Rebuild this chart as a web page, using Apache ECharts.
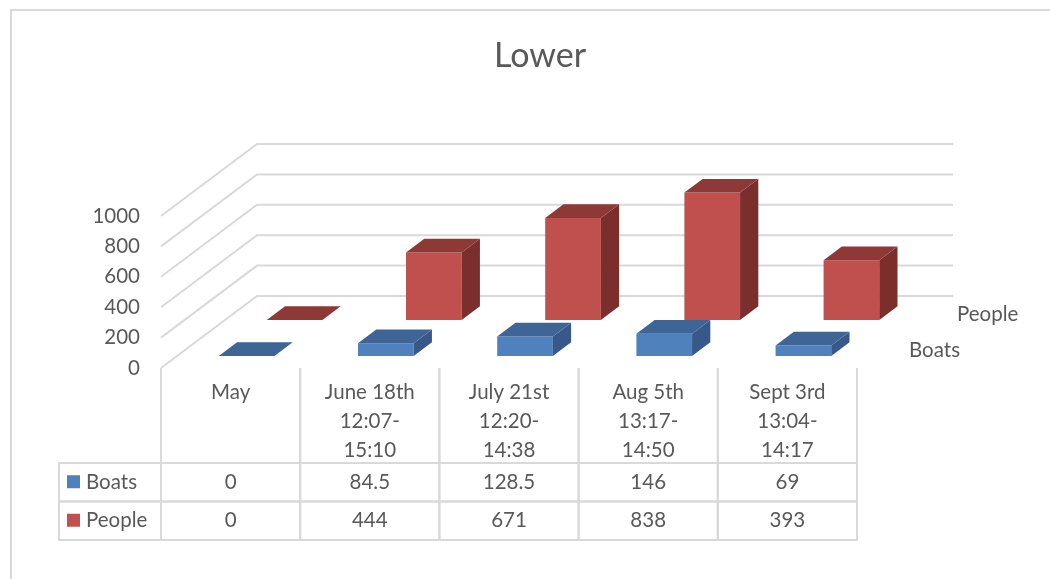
<!DOCTYPE html>
<html><head><meta charset="utf-8">
<script src="https://cdn.jsdelivr.net/npm/echarts@6/dist/echarts.min.js"></script>
<style>html,body{margin:0;padding:0;background:#fff}#c{width:1050px;height:579px}</style>
</head><body><div id="c"></div>
<script>
// ---- data ----
const categories = ['May', 'June 18th\n12:07-\n15:10', 'July 21st\n12:20-\n14:38', 'Aug 5th\n13:17-\n14:50', 'Sept 3rd\n13:04-\n14:17'];
const seriesNames = ['Boats', 'People'];
const boats = [0, 84.5, 128.5, 146, 69];
const people = [0, 444, 671, 838, 393];
const yTicks = [0, 200, 400, 600, 800, 1000];

// ---- style ----
const FONT = 'Lato, "Open Sans", sans-serif';
const FS = 20.5;
const TXT = '#595959';
const LINE = '#D9D9D9';
const DX = 96, DY = -72;            // full depth projection
const ROW_DEPTH = 0.5, GAP = 0.167, BAR_DEPTH = 0.19, BAR_W = 0.4;
const HEADER_H = 95, LEGEND_W = 102;
const shades = [
  { front: '#4F81BD', top: '#3E6596', side: '#37598A' },
  { front: '#C0504D', top: '#8F3936', side: '#7B2F2D' }
];
const valuesByRow = [boats, people];

function proj(p, f) { return [p[0] + DX * f, p[1] + DY * f]; }

function barItem(params, api) {
  const ci = api.value(0), v = api.value(1), r = api.value(2);
  const c0 = api.coord([ci, 0]), c1 = api.coord([ci, v]);
  const bw = api.size([1, 0])[0] * BAR_W;
  const xl = c0[0] - bw / 2, xr = c0[0] + bw / 2, yb = c0[1], yt = c1[1];
  const f0 = r * ROW_DEPTH + GAP, f1 = f0 + BAR_DEPTH;
  const sh = shades[r];
  const kids = [];
  if (yb - yt > 0.3) {
    kids.push({ type: 'polygon', shape: { points: [proj([xl, yb], f0), proj([xr, yb], f0), proj([xr, yt], f0), proj([xl, yt], f0)] }, style: { fill: sh.front } });
    kids.push({ type: 'polygon', shape: { points: [proj([xr, yb], f0), proj([xr, yb], f1), proj([xr, yt], f1), proj([xr, yt], f0)] }, style: { fill: sh.side } });
  }
  kids.push({ type: 'polygon', shape: { points: [proj([xl, yt], f0), proj([xr, yt], f0), proj([xr, yt], f1), proj([xl, yt], f1)] }, style: { fill: sh.top } });
  return { type: 'group', children: kids };
}

function wallItem(params, api) {
  const v = api.value(1);
  const cs = params.coordSys;
  const y = api.coord([0, v])[1];
  const x0 = cs.x, x1 = cs.x + cs.width;
  return { type: 'polyline', shape: { points: [[x0, y], proj([x0, y], 1), proj([x1, y], 1)] }, style: { stroke: LINE, lineWidth: 2, fill: null } };
}

function depthLabelItem(params, api) {
  const r = api.value(2);
  const cs = params.coordSys;
  const y0 = api.coord([0, 0])[1];
  const fc = r * ROW_DEPTH + 0.25;
  const p = proj([cs.x + cs.width, y0], fc);
  return { type: 'text', style: { text: seriesNames[r], x: p[0] + 28, y: p[1], fill: TXT, font: FS + 'px ' + FONT, verticalAlign: 'middle', align: 'left' } };
}

function tableItem(params, api) {
  const ci = api.value(0), r = api.value(1), val = api.value(2);
  const c = api.coord([ci, r]);
  const cw = api.size([1, 1]);
  const x = c[0] - cw[0] / 2, y = c[1] - cw[1] / 2;
  const kids = [];
  kids.push({ type: 'rect', shape: { x: x, y: y, width: cw[0], height: cw[1] }, style: { fill: null, stroke: LINE, lineWidth: 2 } });
  kids.push({ type: 'text', style: { text: String(val), x: c[0], y: c[1], align: 'center', verticalAlign: 'middle', fill: TXT, font: FS + 'px ' + FONT } });
  if (r === 0) {
    kids.push({ type: 'line', shape: { x1: x, y1: y - HEADER_H, x2: x, y2: y }, style: { stroke: LINE, lineWidth: 2 } });
    kids.push({ type: 'line', shape: { x1: x + cw[0], y1: y - HEADER_H, x2: x + cw[0], y2: y }, style: { stroke: LINE, lineWidth: 2 } });
  }
  if (ci === 0) {
    kids.push({ type: 'rect', shape: { x: x - LEGEND_W, y: y, width: LEGEND_W, height: cw[1] }, style: { fill: null, stroke: LINE, lineWidth: 2 } });
    kids.push({ type: 'rect', shape: { x: x - LEGEND_W + 8, y: c[1] - 7, width: 13, height: 13 }, style: { fill: shades[r].front } });
    kids.push({ type: 'text', style: { text: seriesNames[r], x: x - LEGEND_W + 27, y: c[1], align: 'left', verticalAlign: 'middle', fill: TXT, font: FS + 'px ' + FONT } });
  }
  return { type: 'group', children: kids };
}

const barData = r => valuesByRow[r].map((v, i) => [i, v, r]);
const tableData = [];
valuesByRow.forEach((arr, r) => arr.forEach((v, i) => tableData.push([i, r, v])));

const chart = echarts.init(document.getElementById('c'), null, { renderer: 'canvas' });
chart.setOption({
  backgroundColor: '#fff',
  animation: false,
  title: { text: 'Lower', left: 489, top: 34, textStyle: { fontFamily: FONT, fontSize: 34, fontWeight: 'normal', color: TXT } },
  graphic: [{ type: 'rect', shape: { x: 11, y: 10, width: 1200, height: 700 }, style: { fill: null, stroke: LINE, lineWidth: 2 }, z: -10 }],
  grid: [
    { left: 161, right: 193, top: 216, bottom: 211 },
    { left: 161, right: 193, top: 463, bottom: 39 }
  ],
  xAxis: [
    { type: 'category', gridIndex: 0, data: categories, axisLine: { show: false }, axisTick: { show: false }, splitLine: { show: false },
      axisLabel: { interval: 0, margin: 10, lineHeight: 29, fontSize: FS, fontFamily: FONT, color: TXT, verticalAlign: 'top' } },
    { type: 'category', gridIndex: 1, data: categories, show: false }
  ],
  yAxis: [
    { type: 'value', gridIndex: 0, min: 0, max: 1000, interval: 200, axisLine: { show: false }, axisTick: { show: false }, splitLine: { show: false },
      axisLabel: { margin: 21, fontSize: FS, fontFamily: FONT, color: TXT, formatter: v => String(v) } },
    { type: 'category', gridIndex: 1, data: seriesNames, inverse: true, show: false }
  ],
  series: [
    { type: 'custom', name: 'walls', xAxisIndex: 0, yAxisIndex: 0, renderItem: wallItem, data: yTicks.map(v => [0, v]), z: 1, silent: true },
    { type: 'custom', name: 'People', xAxisIndex: 0, yAxisIndex: 0, renderItem: barItem, data: barData(1), z: 2 },
    { type: 'custom', name: 'Boats', xAxisIndex: 0, yAxisIndex: 0, renderItem: barItem, data: barData(0), z: 3 },
    { type: 'custom', name: 'depthLabels', xAxisIndex: 0, yAxisIndex: 0, renderItem: depthLabelItem, data: [[0, 0, 0], [0, 0, 1]], z: 4, silent: true },
    { type: 'custom', name: 'table', xAxisIndex: 1, yAxisIndex: 1, renderItem: tableItem, data: tableData, z: 4, silent: true }
  ]
});
</script></body></html>
